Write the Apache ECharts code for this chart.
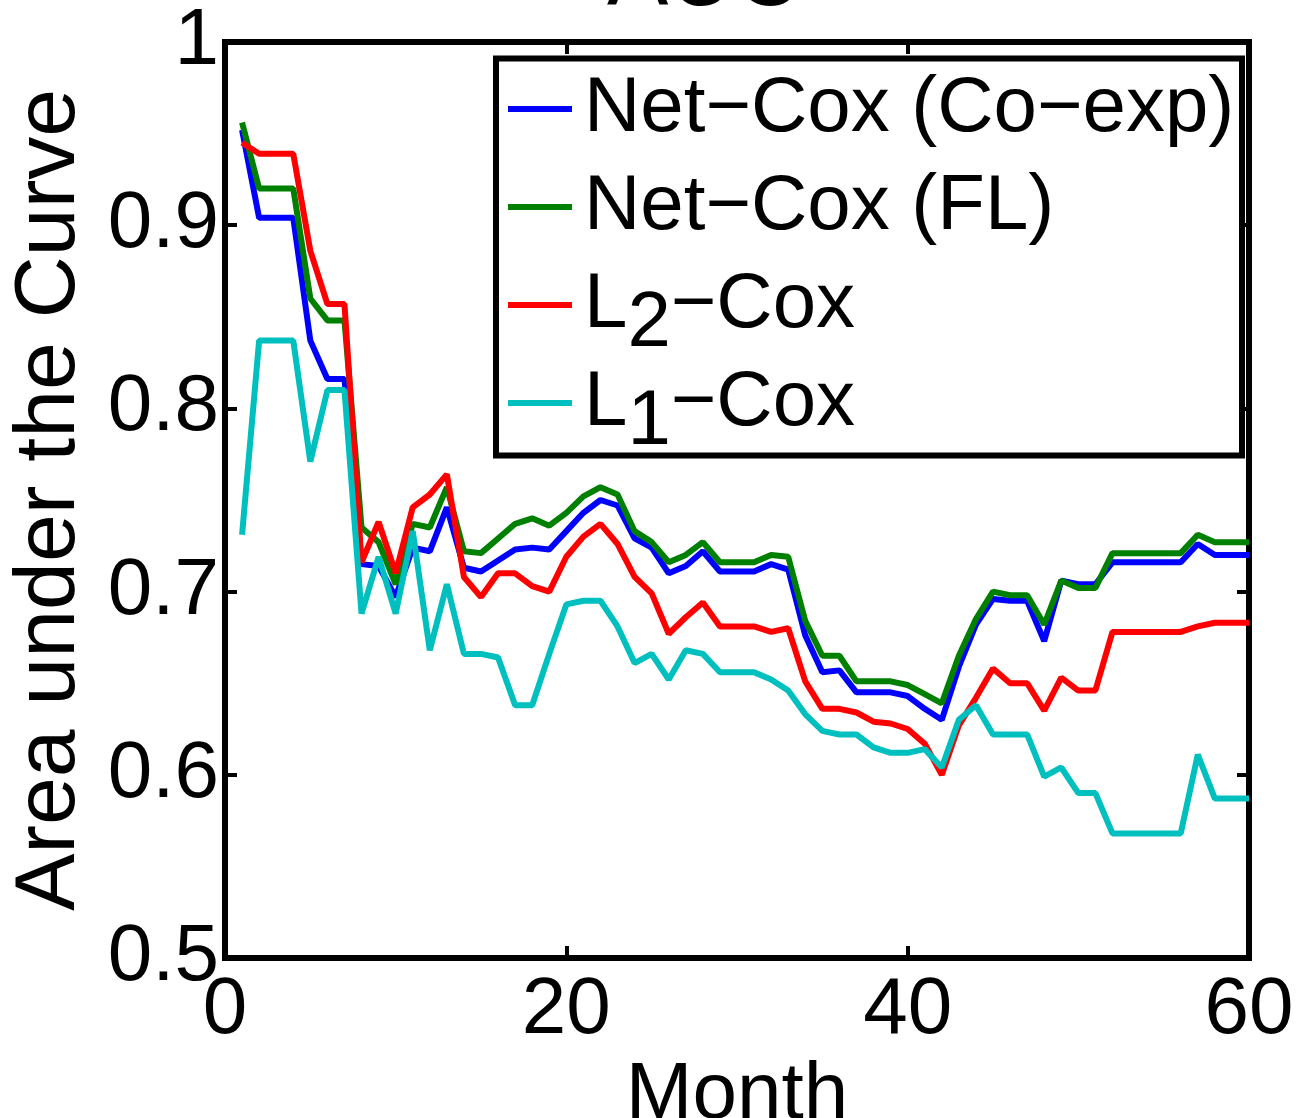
<!DOCTYPE html>
<html>
<head>
<meta charset="utf-8">
<script src="https://cdn.jsdelivr.net/npm/echarts@6/dist/echarts.min.js"></script>
<style>
  html, body { margin: 0; padding: 0; background: #fff; }
  #chart { width: 1301px; height: 1118px; }
</style>
</head>
<body>
<div id="chart"></div>
<script>
// month index
const months = [1, 2, 3, 4, 5, 6, 7, 8, 9, 10, 11, 12, 13, 14, 15, 16, 17, 18, 19, 20,
  21, 22, 23, 24, 25, 26, 27, 28, 29, 30, 31, 32, 33, 34, 35, 36, 37, 38, 39, 40,
  41, 42, 43, 44, 45, 46, 47, 48, 49, 50, 51, 52, 53, 54, 55, 56, 57, 58, 59, 60]

// AUC per month
const netCoxCoexp = [0.952, 0.904, 0.904, 0.904, 0.837, 0.816, 0.816, 0.715, 0.714, 0.697,
  0.724, 0.722, 0.746, 0.713, 0.711, 0.717, 0.723, 0.724, 0.723, 0.733,
  0.743, 0.750, 0.747, 0.729, 0.724, 0.710, 0.714, 0.722, 0.711, 0.711,
  0.711, 0.715, 0.712, 0.676, 0.656, 0.657, 0.645, 0.645, 0.645, 0.643,
  0.636, 0.630, 0.659, 0.682, 0.696, 0.695, 0.695, 0.673, 0.706, 0.704,
  0.704, 0.716, 0.716, 0.716, 0.716, 0.716, 0.726, 0.720, 0.720, 0.720]

const netCoxFL = [0.956, 0.920, 0.920, 0.920, 0.860, 0.848, 0.848, 0.735, 0.727, 0.704,
  0.737, 0.735, 0.757, 0.722, 0.721, 0.729, 0.737, 0.740, 0.736, 0.743,
  0.752, 0.757, 0.753, 0.733, 0.727, 0.716, 0.720, 0.727, 0.716, 0.716,
  0.716, 0.720, 0.719, 0.684, 0.665, 0.665, 0.651, 0.651, 0.651, 0.649,
  0.644, 0.639, 0.665, 0.685, 0.700, 0.698, 0.698, 0.682, 0.706, 0.702,
  0.702, 0.721, 0.721, 0.721, 0.721, 0.721, 0.731, 0.727, 0.727, 0.727]

const l2Cox = [0.945, 0.939, 0.939, 0.939, 0.886, 0.857, 0.857, 0.716, 0.738, 0.710,
  0.746, 0.753, 0.764, 0.708, 0.697, 0.710, 0.710, 0.703, 0.700, 0.719,
  0.730, 0.737, 0.726, 0.708, 0.699, 0.677, 0.686, 0.694, 0.681, 0.681,
  0.681, 0.678, 0.680, 0.651, 0.636, 0.636, 0.634, 0.629, 0.628, 0.625,
  0.617, 0.600, 0.627, 0.642, 0.658, 0.650, 0.650, 0.635, 0.653, 0.646,
  0.646, 0.678, 0.678, 0.678, 0.678, 0.678, 0.681, 0.683, 0.683, 0.683]

const l1Cox = [0.731, 0.837, 0.837, 0.837, 0.771, 0.810, 0.810, 0.688, 0.719, 0.688,
  0.733, 0.668, 0.704, 0.666, 0.666, 0.664, 0.638, 0.638, 0.666, 0.693,
  0.695, 0.695, 0.681, 0.661, 0.666, 0.652, 0.668, 0.666, 0.656, 0.656,
  0.656, 0.652, 0.646, 0.633, 0.624, 0.622, 0.622, 0.615, 0.612, 0.612,
  0.614, 0.604, 0.630, 0.638, 0.622, 0.622, 0.622, 0.599, 0.604, 0.590,
  0.590, 0.568, 0.568, 0.568, 0.568, 0.568, 0.611, 0.587, 0.587, 0.587]

const seriesNames = ['Net−Cox (Co−exp)', 'Net−Cox (FL)', 'L2−Cox', 'L1−Cox']
const seriesColors = ['#0000ff', '#008000', '#ff0000', '#00bfbf']
const seriesValues = [netCoxCoexp, netCoxFL, l2Cox, l1Cox]

const FONT = 'Liberation Sans'

const chart = echarts.init(document.getElementById('chart'), null, { renderer: 'canvas' })

const pairs = vals => months.map((m, i) => [m, vals[i]])

// legend labels, subscript digit dropped below the line like the original
const legendLabel = name => {
  const m = name.match(/^L(\d)(.*)$/)
  if (m) return '{f|L}{s|' + m[1] + '}{n|' + m[2] + '}'
  return '{f|' + name + '}'
}

const boxLine = { color: '#000', width: 6, cap: 'square' }
const tick = { show: true, inside: true, length: 12, lineStyle: { color: '#000', width: 4 } }

const option = {
  animation: false,
  backgroundColor: '#fff',
  grid: { left: 225, right: 52, top: 42, bottom: 160, outerBoundsMode: 'none', containLabel: false },
  graphic: [{
    type: 'text',
    x: 704,
    y: -20,
    style: { text: 'AUC', font: '92px "' + FONT + '"', fill: '#000', align: 'center', verticalAlign: 'middle' }
  }, {
    // legend frame
    type: 'rect',
    z: 3,
    shape: { x: 496, y: 58.5, width: 746, height: 397 },
    style: { fill: '#fff', stroke: '#000', lineWidth: 6 }
  }],
  legend: {
    orient: 'vertical',
    left: 508,
    top: 51,
    z: 4,
    icon: 'rect',
    itemWidth: 64,
    itemHeight: 6,
    itemGap: -18,
    padding: 0,
    data: seriesNames,
    formatter: legendLabel,
    textStyle: {
      fontFamily: FONT,
      fontSize: 78,
      color: '#000',
      rich: {
        f: { fontFamily: FONT, fontSize: 78, lineHeight: 60, padding: [19, 0, 19, 7] },
        n: { fontFamily: FONT, fontSize: 78, lineHeight: 60, padding: [19, 0, 19, 0] },
        s: { fontFamily: FONT, fontSize: 78, lineHeight: 60, padding: [38, 0, 0, 0] }
      }
    }
  },
  xAxis: [{
    type: 'value',
    min: 0,
    max: 60,
    interval: 20,
    position: 'bottom',
    name: 'Month',
    nameLocation: 'middle',
    nameGap: 89,
    nameTextStyle: { fontFamily: FONT, fontSize: 80, color: '#000' },
    axisLine: { show: true, onZero: false, lineStyle: boxLine },
    axisTick: tick,
    axisLabel: { margin: 13, fontFamily: FONT, fontSize: 80, color: '#000' },
    splitLine: { show: false }
  }, {
    type: 'value',
    min: 0,
    max: 60,
    interval: 20,
    position: 'top',
    axisLine: { show: true, onZero: false, lineStyle: boxLine },
    axisTick: tick,
    axisLabel: { show: false },
    splitLine: { show: false }
  }],
  yAxis: [{
    type: 'value',
    min: 0.5,
    max: 1,
    interval: 0.1,
    position: 'left',
    name: 'Area under the Curve',
    nameLocation: 'middle',
    nameGap: 132,
    nameTextStyle: { fontFamily: FONT, fontSize: 86, color: '#000' },
    axisLine: { show: true, onZero: false, lineStyle: boxLine },
    axisTick: tick,
    axisLabel: { margin: 6, fontFamily: FONT, fontSize: 80, color: '#000' },
    splitLine: { show: false }
  }, {
    type: 'value',
    min: 0.5,
    max: 1,
    interval: 0.1,
    position: 'right',
    axisLine: { show: true, onZero: false, lineStyle: boxLine },
    axisTick: tick,
    axisLabel: { show: false },
    splitLine: { show: false }
  }],
  series: seriesNames.map((name, i) => ({
    name: name,
    type: 'line',
    xAxisIndex: 0,
    yAxisIndex: 0,
    symbol: 'none',
    color: seriesColors[i],
    lineStyle: { color: seriesColors[i], width: 6 },
    data: pairs(seriesValues[i])
  }))
}

chart.setOption(option)
</script>
</body>
</html>
